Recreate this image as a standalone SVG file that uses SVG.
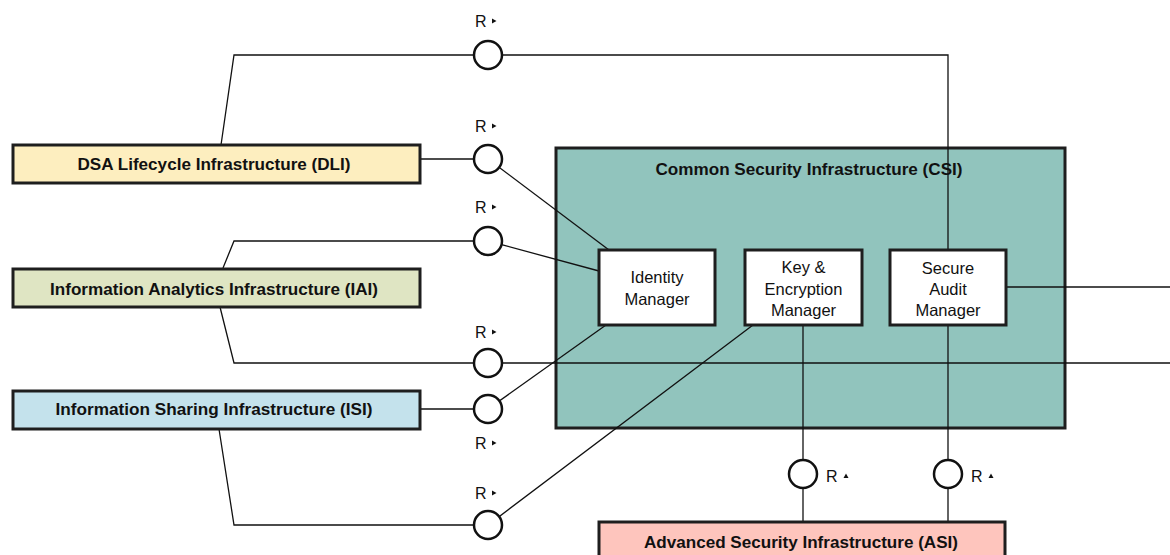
<svg xmlns="http://www.w3.org/2000/svg" width="1170" height="555" viewBox="0 0 1170 555">
<style>
.box{stroke:#1e1e1e;stroke-width:3}
.inner{fill:#ffffff;stroke:#1e1e1e;stroke-width:3}
.title{font-family:"Liberation Sans",Arial,sans-serif;font-weight:bold;font-size:17px;fill:#111;text-anchor:middle}
.lbl{font-family:"Liberation Sans",Arial,sans-serif;font-size:16.5px;fill:#111;text-anchor:middle}
.r{font-family:"Liberation Sans",Arial,sans-serif;font-size:16px;fill:#111}
.ln{stroke:#111;stroke-width:1.3;fill:none}
.port{fill:#ffffff;stroke:#111;stroke-width:2.5}
.tri{fill:#111}
</style>
<defs>
<polygon id="triR" class="tri" points="0,-2.5 4.5,0 0,2.5"/>
<polygon id="triU" class="tri" points="-2.5,2 2.5,2 0,-2.5"/>
</defs>

<g id="csi">
<rect class="box" x="556" y="148" width="509" height="280" fill="#91c4bd"/>
<text class="title" x="809" y="175" textLength="307" lengthAdjust="spacingAndGlyphs">Common Security Infrastructure (CSI)</text>
</g>

<g id="connectors">
<polyline class="ln" points="221,145 234,55 948,55 948,251"/>
<line class="ln" x1="421" y1="159" x2="488" y2="159"/>
<line class="ln" x1="488" y1="159" x2="609" y2="250"/>
<polyline class="ln" points="223,268 234,241 488,241 599,271"/>
<polyline class="ln" points="220,307 234,363 1170,363"/>
<line class="ln" x1="421" y1="409" x2="488" y2="409"/>
<line class="ln" x1="488" y1="409" x2="606" y2="325"/>
<polyline class="ln" points="219,429 234,525 488,525 753,325"/>
<line class="ln" x1="803" y1="325" x2="803" y2="522"/>
<line class="ln" x1="948" y1="325" x2="948" y2="522"/>
<line class="ln" x1="1006" y1="287" x2="1170" y2="287"/>
</g>

<g id="identity-manager">
<rect class="inner" x="599" y="250" width="116" height="75"/>
<text class="lbl" x="657" y="283">Identity</text>
<text class="lbl" x="657" y="305">Manager</text>
</g>
<g id="key-encryption-manager">
<rect class="inner" x="745" y="250" width="117" height="75"/>
<text class="lbl" x="803.5" y="273">Key &amp;</text>
<text class="lbl" x="803.5" y="295">Encryption</text>
<text class="lbl" x="803.5" y="316">Manager</text>
</g>
<g id="secure-audit-manager">
<rect class="inner" x="890" y="250" width="116" height="75"/>
<text class="lbl" x="948" y="274">Secure</text>
<text class="lbl" x="948" y="295">Audit</text>
<text class="lbl" x="948" y="316">Manager</text>
</g>

<g id="dli">
<rect class="box" x="13" y="145" width="407" height="38" fill="#fdeebf"/>
<text class="title" x="214" y="170" textLength="273" lengthAdjust="spacingAndGlyphs">DSA Lifecycle Infrastructure (DLI)</text>
</g>
<g id="iai">
<rect class="box" x="13" y="269" width="407" height="38" fill="#dfe5c3"/>
<text class="title" x="214" y="295" textLength="328" lengthAdjust="spacingAndGlyphs">Information Analytics Infrastructure (IAI)</text>
</g>
<g id="isi">
<rect class="box" x="13" y="391" width="407" height="38" fill="#c4e2ec"/>
<text class="title" x="214" y="415" textLength="317" lengthAdjust="spacingAndGlyphs">Information Sharing Infrastructure (ISI)</text>
</g>
<g id="asi">
<rect class="box" x="599" y="522" width="406" height="40" fill="#fec5bd"/>
<text class="title" x="801" y="548" textLength="314" lengthAdjust="spacingAndGlyphs">Advanced Security Infrastructure (ASI)</text>
</g>

<g id="ports">
<circle class="port" cx="488" cy="55" r="14"/>
<circle class="port" cx="488" cy="159" r="14"/>
<circle class="port" cx="488" cy="241" r="14"/>
<circle class="port" cx="488" cy="363" r="14"/>
<circle class="port" cx="488" cy="409" r="14"/>
<circle class="port" cx="488" cy="525" r="14"/>
<circle class="port" cx="803" cy="474" r="14"/>
<circle class="port" cx="948" cy="474" r="14"/>
</g>

<g id="port-labels">
<text class="r" x="475" y="27">R</text><use href="#triR" x="492" y="21"/>
<text class="r" x="475" y="132">R</text><use href="#triR" x="492" y="126"/>
<text class="r" x="475" y="213">R</text><use href="#triR" x="492" y="207"/>
<text class="r" x="475" y="338">R</text><use href="#triR" x="492" y="332"/>
<text class="r" x="475" y="449">R</text><use href="#triR" x="492" y="443"/>
<text class="r" x="475" y="499">R</text><use href="#triR" x="492" y="493"/>
<text class="r" x="826" y="482">R</text><use href="#triU" x="846" y="476"/>
<text class="r" x="971" y="482">R</text><use href="#triU" x="991" y="476"/>
</g>
</svg>
